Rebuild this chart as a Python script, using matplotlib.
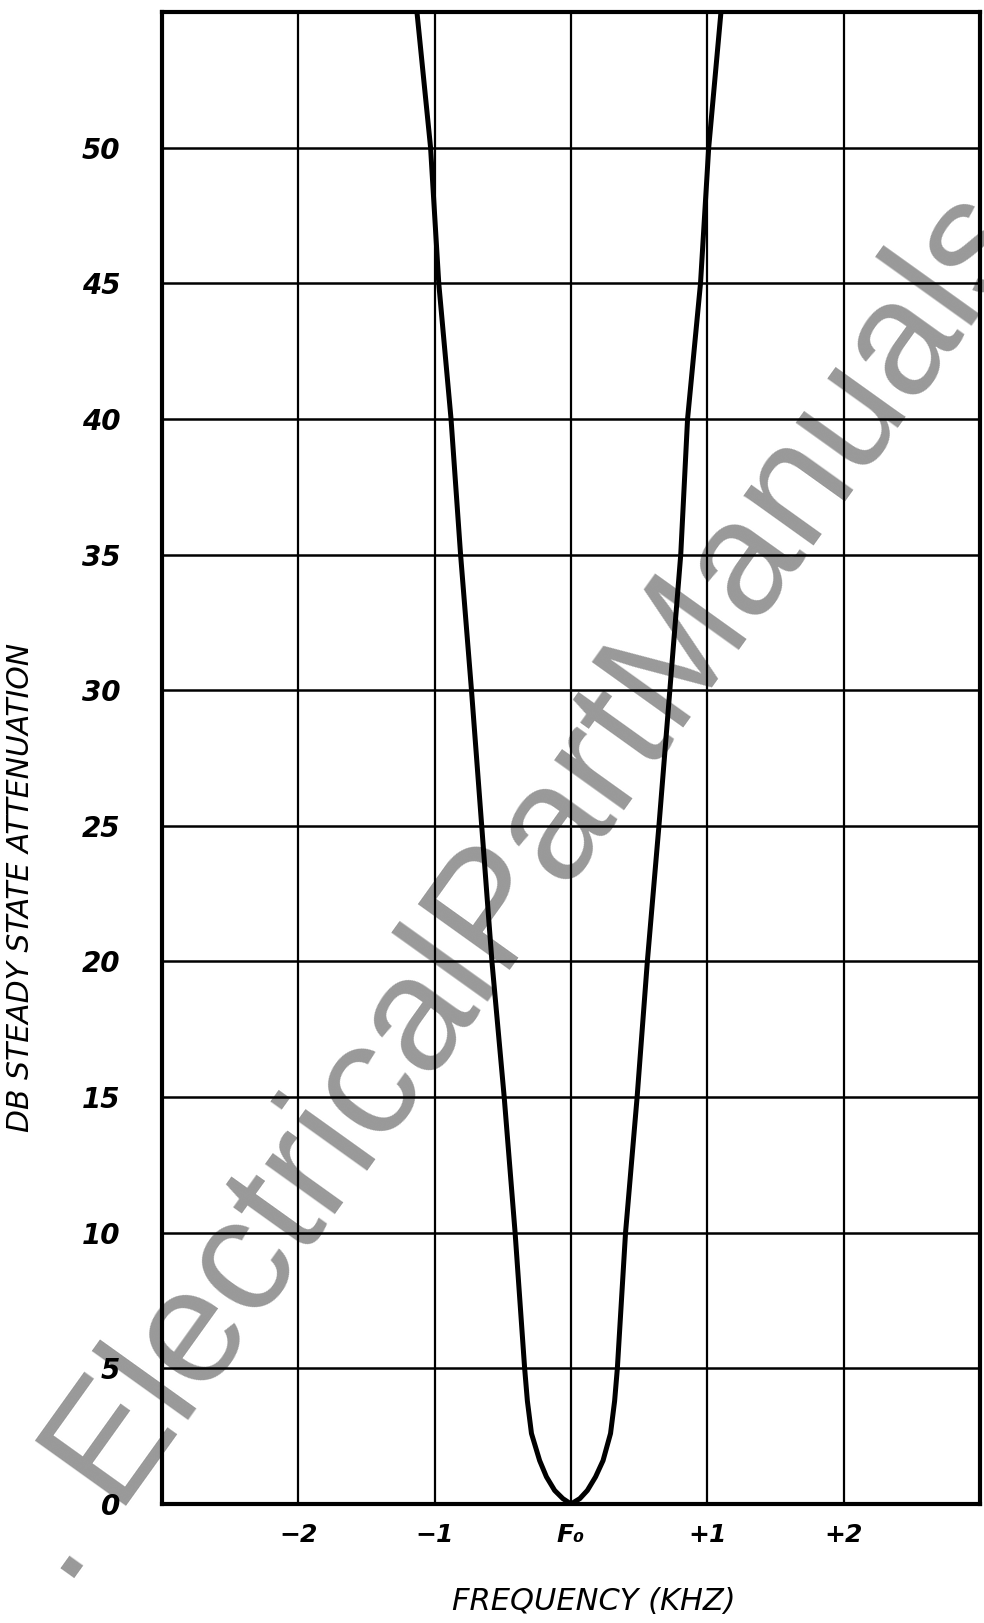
import matplotlib
matplotlib.use("Agg")
import matplotlib.pyplot as plt
import numpy as np

# attenuation levels (dB) and the two skirts of the response (kHz from F0)
db_levels = [55, 50, 45, 40, 35, 30, 25, 20, 15, 10, 5, 3.8, 2.6, 1.6, 1.0, 0.5, 0.2, 0]
left_khz = [-1.13, -1.03, -0.97, -0.88, -0.81, -0.73, -0.655, -0.58, -0.49, -0.41, -0.34,
            -0.32, -0.29, -0.23, -0.18, -0.12, -0.06, 0.0]
right_khz = [1.10, 1.01, 0.95, 0.855, 0.805, 0.725, 0.645, 0.56, 0.485, 0.40, 0.34,
             0.32, 0.29, 0.235, 0.18, 0.12, 0.065, 0.0]

x_ticks = [-2, -1, 0, 1, 2]
x_ticklabels = ["−2", "−1", "F₀", "+1", "+2"]
y_ticks = [0, 5, 10, 15, 20, 25, 30, 35, 40, 45, 50]
y_ticklabels = [str(v) for v in y_ticks]

W, H = 984, 1623
fig = plt.figure(figsize=(W / 100, H / 100), dpi=100, facecolor="white")
ax = fig.add_axes([162 / W, 1 - 1504 / H, (980 - 162) / W, (1504 - 12) / H])

# curve: left skirt top->bottom, then right skirt bottom->top
xs = np.array(left_khz + right_khz[::-1][1:])
ys = np.array(db_levels + db_levels[::-1][1:])
ax.plot(xs, ys, color="black", lw=3.6, solid_capstyle="round",
        solid_joinstyle="round", zorder=3)

ax.set_xlim(-3, 3)
ax.set_ylim(0, 55)
ax.set_xticks(x_ticks)
ax.set_xticklabels(x_ticklabels)
ax.set_yticks(y_ticks)
ax.set_yticklabels(y_ticklabels)
for v in [-2, -1, 0, 1, 2]:
    ax.axvline(v, color="black", lw=1.6, zorder=2)
for v in [5, 10, 15, 20, 25, 30, 35, 40, 45, 50]:
    ax.axhline(v, color="black", lw=1.8, zorder=2)
for s in ax.spines.values():
    s.set_linewidth(3.0)
    s.set_zorder(4)

ax.tick_params(axis="both", length=0)
ax.tick_params(axis="y", pad=30)
ax.tick_params(axis="x", pad=14)
for lab in ax.get_xticklabels():
    lab.set_fontsize(18)
    lab.set_fontweight("bold")
    lab.set_fontstyle("italic")
for lab in ax.get_yticklabels():
    lab.set_fontsize(20)
    lab.set_fontweight("bold")
    lab.set_fontstyle("italic")

fig.text(21 / W, 1 - 887 / H, "DB STEADY STATE ATTENUATION", rotation=90,
         ha="center", va="center", fontsize=21.5, fontstyle="italic")
fig.text(594 / W, 1 - 1602 / H, "FREQUENCY (KHZ)", ha="center", va="center",
         fontsize=22, fontstyle="italic")

# watermark
ax.text(66 / W, 1 - 1590 / H, ". ElectricalPartManuals.com", transform=fig.transFigure,
        rotation=54.4, rotation_mode="anchor", ha="left", va="baseline",
        fontsize=117, family="Liberation Sans", color="#999999", clip_on=False, zorder=1)

fig.savefig("out.png", dpi=100, facecolor="white")
